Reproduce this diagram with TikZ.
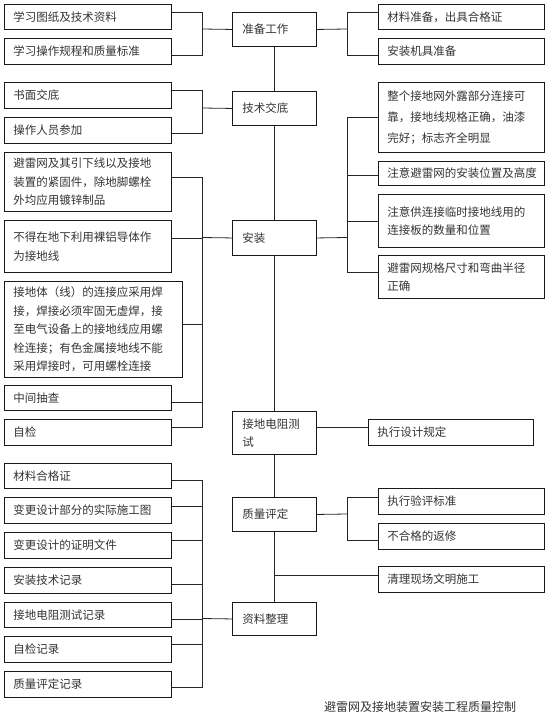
\documentclass[tikz,border=0pt]{standalone}
\usepackage{fontspec}
\setmainfont{Noto Sans CJK SC}
\begin{document}
\begin{tikzpicture}[x=1pt, y=-1pt]
    % Node styles
    \tikzset{
      box/.style={draw=black!90, line width=0.9pt, anchor=north west, inner xsep=9pt, inner ysep=0pt,
        align=left, text=black!80, font=\fontsize{11.5}{18.5}\selectfont},
      left box/.style={box, text width=149pt},
      wide box/.style={box, text width=160pt},
      main box/.style={box, inner xsep=10pt, text width=64pt},
      right box/.style={box, text width=148pt},
      link/.style={draw=black!85, line width=0.8pt}
    }
    \useasboundingbox (0,0) rectangle (553,725);

    % --- Main column ---
    \node[main box, minimum height=34pt] (M1) at (232,12) {准备工作};
    \node[main box, minimum height=34pt] (M2) at (232,91) {技术交底};
    \node[main box, minimum height=35pt] (M3) at (232,220) {安装};
    \node[main box, minimum height=43pt] (M4) at (232,411) {接地电阻测\\试};
    \node[main box, minimum height=34pt] (M5) at (232,497) {质量评定};
    \node[main box, minimum height=33pt] (M6) at (232,602) {资料整理};

    % Spine
    \draw[link] (M1) -- (M2);
    \draw[link] (M2) -- (M3);
    \draw[link] (M3) -- (M4);
    \draw[link] (M4) -- (M5);
    \draw[link] (M5) -- (M6);

    % --- Left column ---
    \node[left box, minimum height=25pt] (L1) at (4,4) {学习图纸及技术资料};
    \node[left box, minimum height=26pt] (L2) at (4,38) {学习操作规程和质量标准};
    \node[left box, minimum height=26pt] (L3) at (4,82) {书面交底};
    \node[left box, minimum height=26pt] (L4) at (4,117) {操作人员参加};
    \node[left box, minimum height=59pt] (L5) at (4,152) {避雷网及其引下线以及接地\\装置的紧固件，除地脚螺栓\\外均应用镀锌制品};
    \node[left box, minimum height=52pt] (L6) at (4,220) {不得在地下利用裸铝导体作\\为接地线};
    \node[wide box, minimum height=96pt] (L7) at (4,281) {接地体（线）的连接应采用焊\\接，焊接必须牢固无虚焊，接\\至电气设备上的接地线应用螺\\栓连接；有色金属接地线不能\\采用焊接时，可用螺栓连接};
    \node[left box, minimum height=25pt] (L8) at (4,385) {中间抽查};
    \node[left box, minimum height=26pt] (L9) at (4,419) {自检};
    \node[left box, minimum height=25pt] (L10) at (4,463) {材料合格证};
    \node[left box, minimum height=26pt] (L11) at (4,497) {变更设计部分的实际施工图};
    \node[left box, minimum height=26pt] (L12) at (4,532) {变更设计的证明文件};
    \node[left box, minimum height=26pt] (L13) at (4,567) {安装技术记录};
    \node[left box, minimum height=25pt] (L14) at (4,602) {接地电阻测试记录};
    \node[left box, minimum height=26pt] (L15) at (4,636) {自检记录};
    \node[left box, minimum height=26pt] (L16) at (4,671) {质量评定记录};

    % --- Right column ---
    \node[right box, minimum height=25pt] (R1) at (378,4) {材料准备，出具合格证};
    \node[right box, minimum height=26pt] (R2) at (378,38) {安装机具准备};
    \node[right box, minimum height=70pt, font=\fontsize{11.5}{21}\selectfont] (R3) at (378,82) {整个接地网外露部分连接可\\靠，接地线规格正确，油漆\\完好；标志齐全明显};
    \node[right box, minimum height=24pt] (R4) at (378,161) {注意避雷网的安装位置及高度};
    \node[right box, minimum height=53pt] (R5) at (378,194) {注意供连接临时接地线用的\\连接板的数量和位置};
    \node[right box, minimum height=43pt] (R6) at (378,255) {避雷网规格尺寸和弯曲半径\\正确};
    \node[box, text width=147pt, minimum height=26pt] (R7) at (368,419) {执行设计规定};
    \node[right box, minimum height=26pt] (R8) at (378,488) {执行验评标准};
    \node[right box, minimum height=26pt] (R9) at (378,523) {不合格的返修};
    \node[right box, minimum height=26pt] (R10) at (378,566) {清理现场文明施工};

    % Bus points
    \coordinate (bl1) at (202,29);
    \coordinate (br1) at (347,29);
    \coordinate (bl2) at (202,108);
    \coordinate (bl3) at (202,237.5);
    \coordinate (br3) at (347,237.5);
    \coordinate (br5) at (347,514);
    \coordinate (bl6) at (202,618.5);

    % --- Group: preparation ---
    \draw[link] ([yshift=4.5pt]L1.east) -| (bl1);
    \draw[link] ([yshift=-4pt]L2.east) -| (bl1);
    \draw[link] (bl1) -- (M1.west);
    \draw[link] (M1.east) -- (br1);
    \draw[link] (br1) |- ([yshift=4.5pt]R1.west);
    \draw[link] (br1) |- ([yshift=-4pt]R2.west);

    % --- Group: briefing ---
    \draw[link] ([yshift=5pt]L3.east) -| (bl2);
    \draw[link] ([yshift=-3pt]L4.east) -| (bl2);
    \draw[link] (bl2) -- (M2.west);

    % --- Group: installation ---
    \draw[link] ([yshift=4.5pt]L5.east) -| (bl3);
    \draw[link] ([yshift=8pt]L6.east) -| (bl3);
    \draw[link] ([yshift=5pt]L7.east) -| (bl3);
    \draw[link] ([yshift=-4.5pt]L8.east) -| (bl3);
    \draw[link] ([yshift=5pt]L9.east) -| (bl3);
    \draw[link] (bl3) -- (M3.west);
    \draw[link] (M3.east) -- (br3);
    \draw[link] (br3) |- (R3.west);
    \draw[link] (br3) |- ([yshift=-2pt]R4.west);
    \draw[link] (br3) |- (R5.west);
    \draw[link] (br3) |- ([yshift=4.5pt]R6.west);

    % --- Group: resistance test ---
    \draw[link] ([yshift=5pt]R7.west) -- ([yshift=5pt]R7.west -| M4.east);

    % --- Group: quality rating ---
    \draw[link] (M5.east) -- (br5);
    \draw[link] (br5) |- ([yshift=4pt]R8.west);
    \draw[link] (br5) |- ([yshift=-4pt]R9.west);
    \draw[link] ([yshift=4pt]R10.west) -- ([yshift=4pt]R10.west -| M5.south);

    % --- Group: documents ---
    \draw[link] ([yshift=-4.5pt]L10.east) -| (bl6);
    \draw[link] ([yshift=4pt]L11.east) -| (bl6);
    \draw[link] ([yshift=5pt]L12.east) -| (bl6);
    \draw[link] ([yshift=-4pt]L13.east) -| (bl6);
    \draw[link] ([yshift=-4pt]L14.east) -| (bl6);
    \draw[link] ([yshift=5pt]L15.east) -| (bl6);
    \draw[link] ([yshift=-3pt]L16.east) -| (bl6);
    \draw[link] (bl6) -- (M6.west);

    % Caption
    \node[text=black!80, font=\fontsize{12}{14}\selectfont] (caption) at (420,707) {避雷网及接地装置安装工程质量控制};
\end{tikzpicture}
\end{document}
